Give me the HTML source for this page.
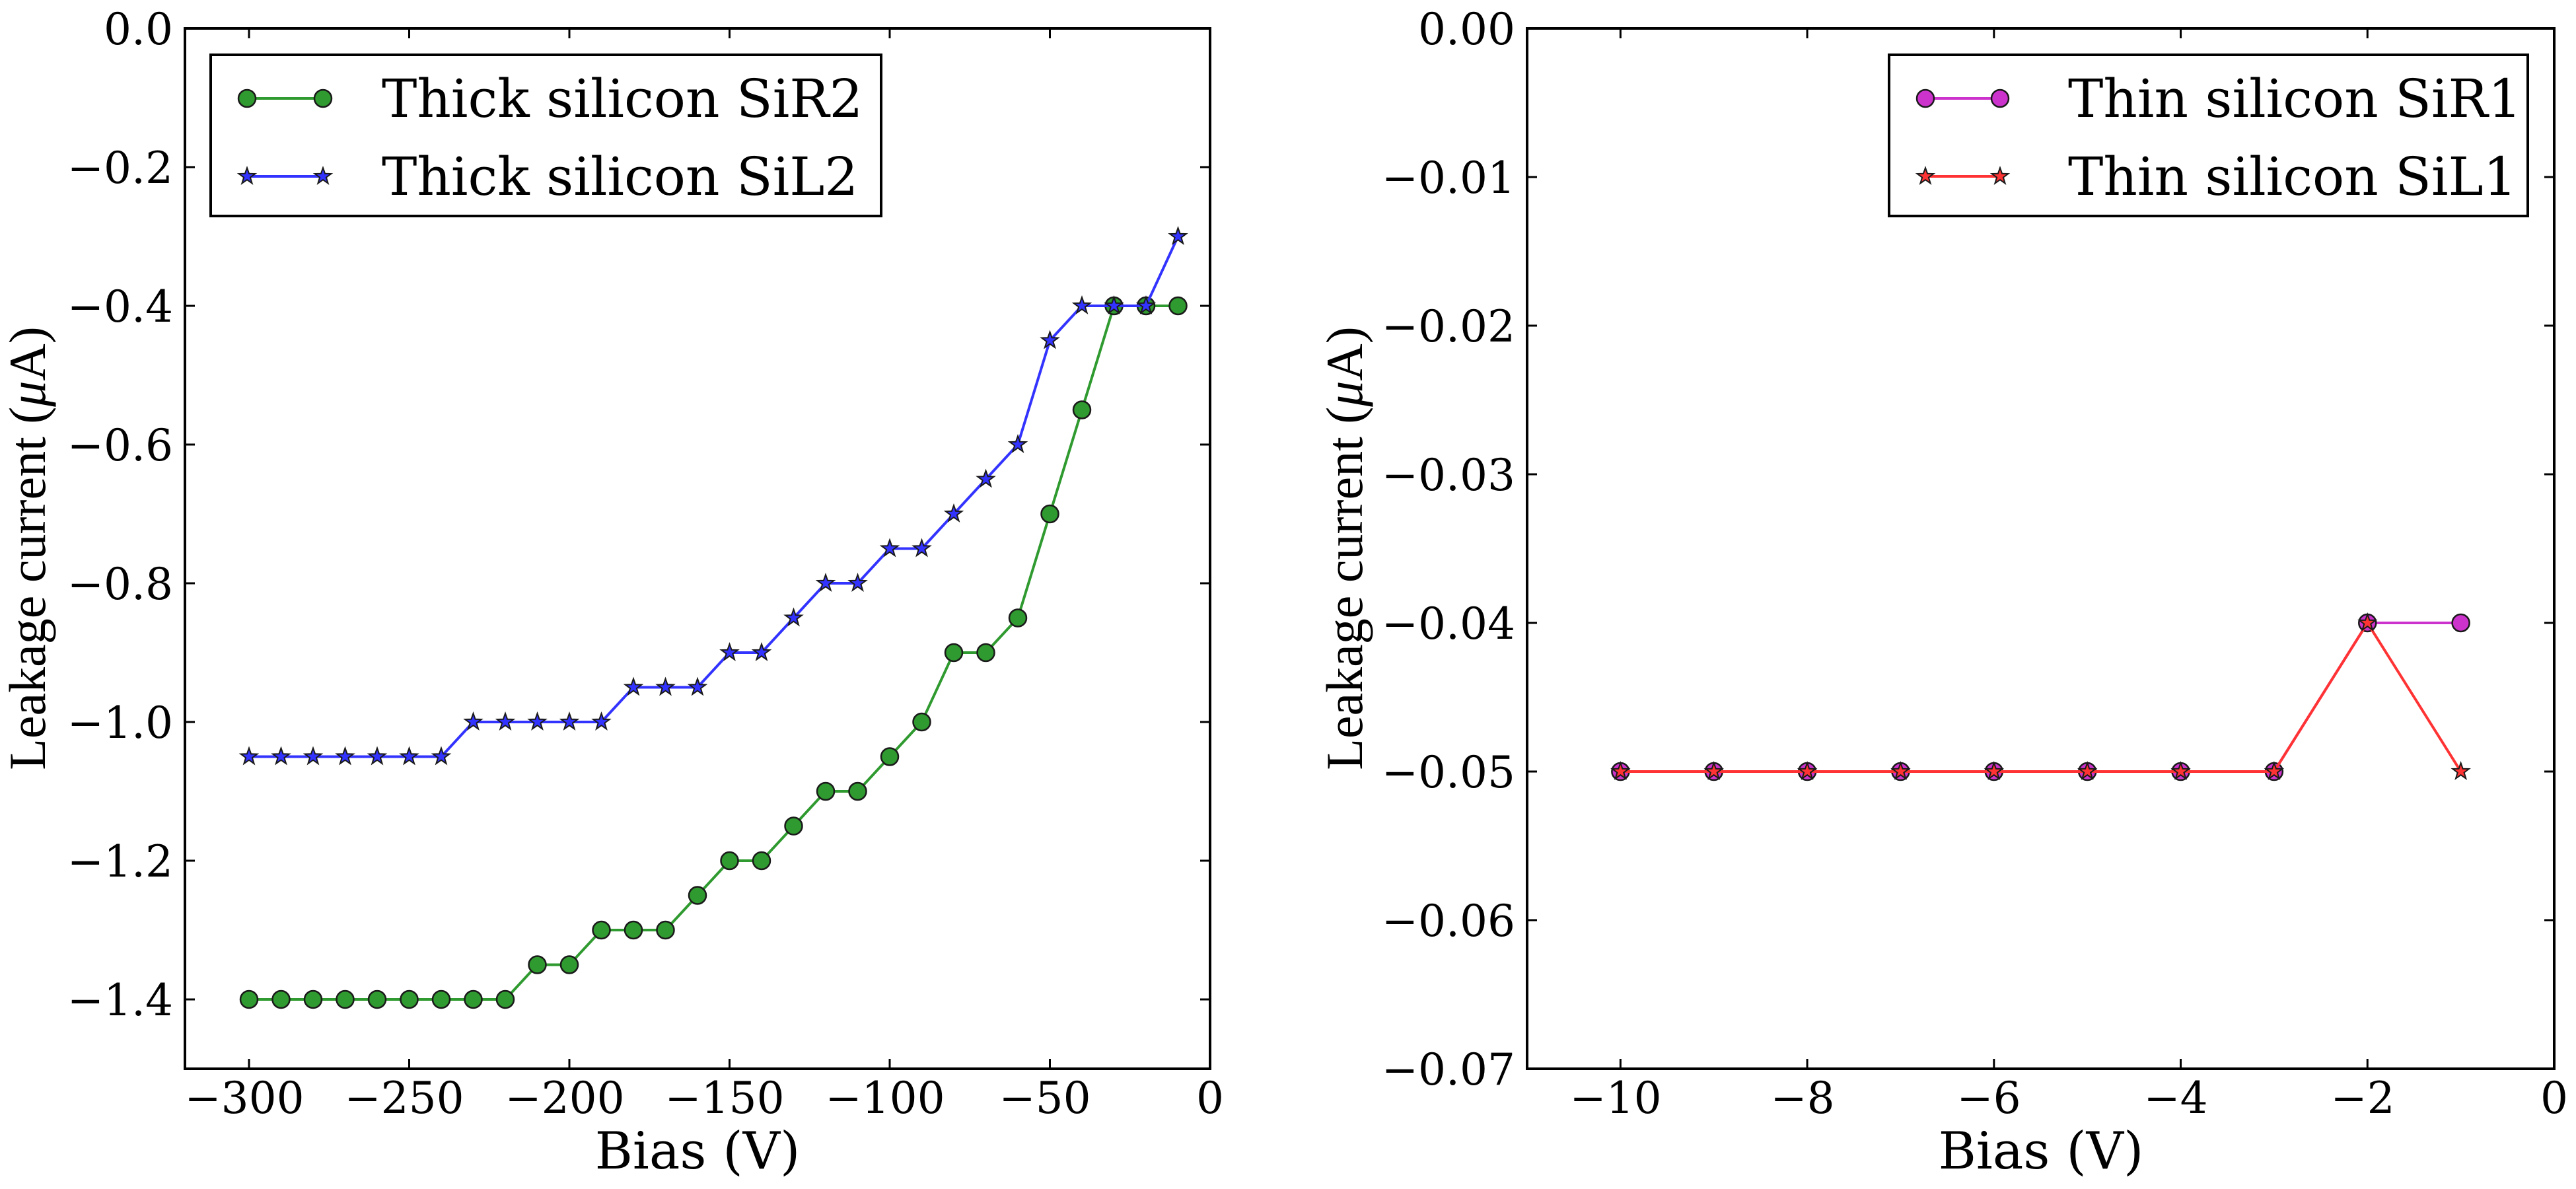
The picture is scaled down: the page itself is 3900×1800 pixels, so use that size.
<!DOCTYPE html>
<html><head><meta charset="utf-8"><style>
html,body{margin:0;padding:0;background:#fff;}
svg{display:block;}
text{font-family:"DejaVu Serif","Liberation Serif",serif;fill:#000;}
.tk{font-size:66px;}
.lb{font-size:78px;}
.yl{font-size:78px;font-family:"Liberation Serif","DejaVu Serif",serif;}
.lg{font-size:80px;}
</style></head><body>
<svg id="s" width="3900" height="1800" viewBox="0 0 3900 1800" xmlns="http://www.w3.org/2000/svg">
<rect width="3900" height="1800" fill="#fff"/>
<g id="plots"></g>
<rect x="280" y="43" width="1552" height="1575" fill="none" stroke="#000" stroke-width="4"/>
<rect x="2312" y="43" width="1555" height="1575" fill="none" stroke="#000" stroke-width="4"/>
<g id="ticks" stroke="#000" stroke-width="3"></g>
<g class="tk" text-anchor="end">
<text x="262" y="67">0.0</text>
<text x="262" y="277">−0.2</text>
<text x="262" y="487">−0.4</text>
<text x="262" y="697">−0.6</text>
<text x="262" y="907">−0.8</text>
<text x="262" y="1117">−1.0</text>
<text x="262" y="1327">−1.2</text>
<text x="262" y="1537">−1.4</text>
</g>
<g class="tk" text-anchor="middle">
<text x="370" y="1685">−300</text>
<text x="612" y="1685">−250</text>
<text x="855" y="1685">−200</text>
<text x="1097" y="1685">−150</text>
<text x="1340" y="1685">−100</text>
<text x="1582" y="1685">−50</text>
<text x="1832" y="1685">0</text>
</g>
<g class="tk" text-anchor="end">
<text x="2294" y="67">0.00</text>
<text x="2294" y="292">−0.01</text>
<text x="2294" y="517">−0.02</text>
<text x="2294" y="742">−0.03</text>
<text x="2294" y="967">−0.04</text>
<text x="2294" y="1192">−0.05</text>
<text x="2294" y="1417">−0.06</text>
<text x="2294" y="1642">−0.07</text>
</g>
<g class="tk" text-anchor="middle">
<text x="2446" y="1685">−10</text>
<text x="2729" y="1685">−8</text>
<text x="3011" y="1685">−6</text>
<text x="3294" y="1685">−4</text>
<text x="3577" y="1685">−2</text>
<text x="3867" y="1685">0</text>
</g>
<text class="lb" x="1056" y="1769" text-anchor="middle">Bias (V)</text>
<text class="lb" x="3090" y="1769" text-anchor="middle">Bias (V)</text>
<text class="yl" transform="translate(68,830) rotate(-90)" text-anchor="middle">Leakage current (<tspan font-style="italic">μ</tspan>A)</text>
<text class="yl" transform="translate(2062,830) rotate(-90)" text-anchor="middle">Leakage current (<tspan font-style="italic">μ</tspan>A)</text>
<rect x="319" y="83" width="1015" height="244" fill="#fff" stroke="#000" stroke-width="4"/>
<rect x="2860" y="83" width="967" height="244" fill="#fff" stroke="#000" stroke-width="4"/>
<g id="leg"></g>
<text class="lg" x="578" y="177">Thick silicon SiR2</text>
<text class="lg" x="578" y="295">Thick silicon SiL2</text>
<text class="lg" x="3131" y="177">Thin silicon SiR1</text>
<text class="lg" x="3131" y="295">Thin silicon SiL1</text>
</svg>
<script>
(function(){
var NS="http://www.w3.org/2000/svg";
function el(p,n,a){var e=document.createElementNS(NS,n);for(var k in a)e.setAttribute(k,a[k]);p.appendChild(e);return e;}
var plots=document.getElementById('plots'),ticks=document.getElementById('ticks'),leg=document.getElementById('leg');
function star(cx,cy,r){var s="";for(var i=0;i<10;i++){var rr=i%2?r*0.4:r;var a=-Math.PI/2+i*Math.PI/5;s+=(i?"L":"M")+(cx+rr*Math.cos(a)).toFixed(1)+","+(cy+rr*Math.sin(a)).toFixed(1);}return s+"Z";}
function series(g,pts,col,mk){
 var d=pts.map(function(p,i){return (i?"L":"M")+p[0].toFixed(1)+","+p[1].toFixed(1);}).join("");
 el(g,'path',{d:d,fill:'none',stroke:col,'stroke-width':4});
 pts.forEach(function(p){
  if(mk=='o')el(g,'ellipse',{cx:p[0],cy:p[1],rx:13,ry:13,fill:col,stroke:'#1a1a1a','stroke-width':2.5});
  else el(g,'path',{d:star(p[0],p[1],13),fill:col,stroke:'#1a1a1a','stroke-width':2});
 });
}
function LX(v){return 280+(v+320)/320*1552;} function LY(v){return 43+(-v)/1.5*1575;}
function RX(v){return 2312+(v+11)/11*1555;} function RY(v){return 43+(-v)/0.07*1575;}
var g1=[-1.4,-1.4,-1.4,-1.4,-1.4,-1.4,-1.4,-1.4,-1.4,-1.35,-1.35,-1.3,-1.3,-1.3,-1.25,-1.2,-1.2,-1.15,-1.1,-1.1,-1.05,-1.0,-0.9,-0.9,-0.85,-0.7,-0.55,-0.4,-0.4,-0.4];
var b1=[-1.05,-1.05,-1.05,-1.05,-1.05,-1.05,-1.05,-1,-1,-1,-1,-1,-0.95,-0.95,-0.95,-0.9,-0.9,-0.85,-0.8,-0.8,-0.75,-0.75,-0.7,-0.65,-0.6,-0.45,-0.4,-0.4,-0.4,-0.3];
series(plots,g1.map(function(y,i){return [LX(-300+10*i),LY(y)];}),'#2f9a2f','o');
series(plots,b1.map(function(y,i){return [LX(-300+10*i),LY(y)];}),'#3333ff','*');
var m=[-0.05,-0.05,-0.05,-0.05,-0.05,-0.05,-0.05,-0.05,-0.04,-0.04];
var r=[-0.05,-0.05,-0.05,-0.05,-0.05,-0.05,-0.05,-0.05,-0.04,-0.05];
series(plots,m.map(function(y,i){return [RX(-10+i),RY(y)];}),'#cc33cc','o');
series(plots,r.map(function(y,i){return [RX(-10+i),RY(y)];}),'#ff3333','*');
series(leg,[[374,149],[489,149]],'#2f9a2f','o');
series(leg,[[374,267],[489,267]],'#3333ff','*');
series(leg,[[2915,149],[3028,149]],'#cc33cc','o');
series(leg,[[2915,267],[3028,267]],'#ff3333','*');
function tk(x1,y1,x2,y2){el(ticks,'line',{x1:x1,y1:y1,x2:x2,y2:y2});}
for(var v=-300;v<=0;v+=50){var x=LX(v);tk(x,1618,x,1603);tk(x,43,x,58);}
for(var k=0;k<=7;k++){var y=LY(-0.2*k);tk(280,y,295,y);tk(1832,y,1817,y);}
for(var v=-10;v<=0;v+=2){var x=RX(v);tk(x,1618,x,1603);tk(x,43,x,58);}
for(var k=0;k<=7;k++){var y=RY(-0.01*k);tk(2312,y,2327,y);tk(3867,y,3852,y);}
})();
</script>
</body></html>
